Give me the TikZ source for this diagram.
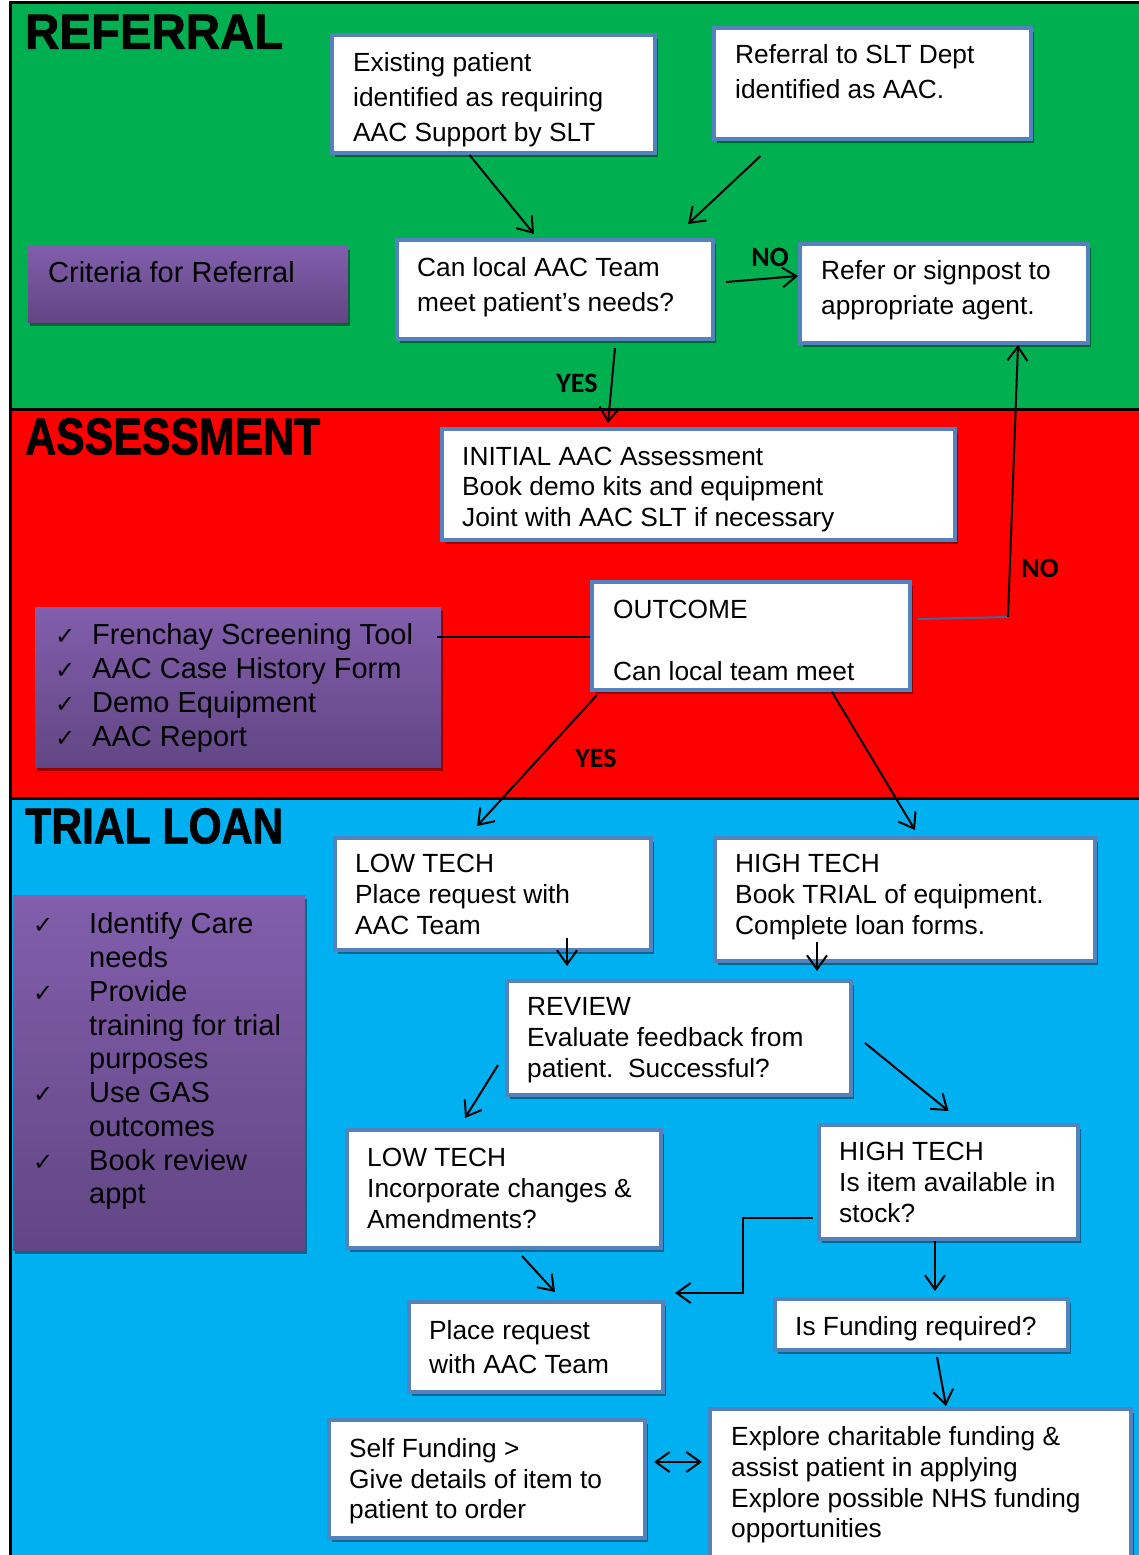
\documentclass[tikz,border=0pt]{standalone}
\usepackage{fontspec}
\usepackage{graphicx}
\setmainfont{Liberation Sans}
\newfontfamily\chkfont{DejaVu Sans}
\newfontfamily\lblfont{Carlito}
\newfontface\headfont[FakeBold=1.6]{Liberation Sans Bold}
\usetikzlibrary{arrows.meta,shadows}
\definecolor{grn}{RGB}{0,176,80}
\definecolor{rd}{RGB}{255,0,0}
\definecolor{sky}{RGB}{0,176,240}
\definecolor{bordc}{RGB}{84,130,190}
\definecolor{ptop}{RGB}{130,94,172}
\definecolor{pbot}{RGB}{98,70,132}
\newcommand\bx[6][box]{\node[#1, minimum width={#5-#3-4}, minimum height={#6-#4-4}] (#2) at ({(#3+#5)/2},{(#4+#6)/2}) {};}
\newcommand\chk{{\chkfont\fontsize{24}{24}\selectfont ✓}}
\tikzset{
  box/.style={rectangle, draw=bordc, line width=4pt, fill=white, inner sep=0pt,
    drop shadow={shadow xshift=3pt, shadow yshift=-4pt, opacity=0.4, fill=black}},
  pbox/.style={rectangle, draw=none, inner sep=0pt, top color=ptop, bottom color=pbot,
    drop shadow={shadow xshift=2pt, shadow yshift=-4pt, opacity=0.4, fill=black}},
  txt/.style={anchor=north west, inner sep=0pt, align=left, font=\fontsize{26.3}{#1}\selectfont},
  txt/.default=31,
  ptxt/.style={anchor=north west, inner sep=0pt, align=left, font=\fontsize{29}{#1}\selectfont},
  ptxt/.default=34,
  conn/.style={line width=2pt, -{Straight Barb[length=14pt,width=20pt]}},
  lbl/.style={inner sep=0pt, font=\lblfont\bfseries\fontsize{28}{28}\selectfont},
  head/.style={anchor=south west, inner sep=0pt}
}
\begin{document}
\begin{tikzpicture}[x=1pt,y=-1pt]
\clip (0,0) rectangle (1139,1555);
\fill[white] (0,0) rectangle (1139,1555);
\fill[grn] (10,3) rectangle (1139,409);
\fill[rd] (10,409) rectangle (1139,798);
\fill[sky] (10,798) rectangle (1139,1560);
\draw[line width=3pt] (10,1560) -- (10,3) -- (1139,3);
\draw[line width=3pt] (10,409) -- (1139,409);
\draw[line width=3pt] (10,798) -- (1139,798);

% headings
\node[head] (hRef) at (25,49) {\resizebox{258pt}{34pt}{\headfont REFERRAL}};
\node[head] (hAss) at (25,455) {\resizebox{295pt}{36pt}{\headfont ASSESSMENT}};
\node[head] (hTri) at (25,844) {\resizebox{258pt}{35pt}{\headfont TRIAL LOAN}};

% boxes
\bx{b1}{330}{33}{657}{155}
\bx{b2}{712}{26}{1033}{141}
\bx{b3}{395}{238}{715}{341}
\bx{b4}{798}{242}{1090}{345}
\bx[pbox]{p1}{26}{244}{350}{324}
\bx{b5}{440}{427}{957}{542}
\bx{b6}{590}{580}{912}{692}
\bx[pbox]{p2}{33}{605}{443}{769}
\bx{b7}{333}{836}{653}{952}
\bx{b8}{713}{836}{1097}{963}
\bx[pbox]{p3}{11}{893}{307}{1252}
\bx{b9}{505}{979}{853}{1097}
\bx{b10}{345}{1128}{663}{1250}
\bx{b11}{817}{1123}{1080}{1241}
\bx{b12}{407}{1300}{665}{1394}
\bx{b13}{773}{1297}{1070}{1352}
\bx{b14}{327}{1418}{647}{1540}
\bx{b15}{708}{1407}{1133}{1575}

% texts
\node[txt=35] (t1) at (353,52.6) {Existing patient\\identified as requiring\\AAC Support by SLT};
\node[txt=35] (t2) at (735,44.6) {Referral to SLT Dept\\identified as AAC.};
\node[txt=35] (t3) at (417,257.6) {Can local AAC Team\\meet patient’s needs?};
\node[txt=35] (t4) at (821,260.6) {Refer or signpost to\\appropriate agent.};
\node[ptxt] (p1t) at (48,261.6) {Criteria for Referral};
\node[txt=30.5] (t5) at (462,446.6) {INITIAL AAC Assessment\\Book demo kits and equipment\\Joint with AAC SLT if necessary};
\node[txt=31] (t6) at (613,599.6) {OUTCOME\\[31pt]Can local team meet};
\node[ptxt=34] (p2t) at (55,623.6) {\makebox[37pt][l]{\chk}Frenchay Screening Tool\\
\makebox[37pt][l]{\chk}AAC Case History Form\\
\makebox[37pt][l]{\chk}Demo Equipment\\
\makebox[37pt][l]{\chk}AAC Report};
\node[txt] (t7) at (355,853.6) {LOW TECH\\Place request with\\AAC Team};
\node[txt] (t8) at (735,853.6) {HIGH TECH\\Book TRIAL of equipment.\\Complete loan forms.};
\node[ptxt=33.75] (p3t) at (33,912.6) {\makebox[56pt][l]{\chk}Identify Care\\
\hspace*{56pt}needs\\
\makebox[56pt][l]{\chk}Provide\\
\hspace*{56pt}training for trial\\
\hspace*{56pt}purposes\\
\makebox[56pt][l]{\chk}Use GAS\\
\hspace*{56pt}outcomes\\
\makebox[56pt][l]{\chk}Book review\\
\hspace*{56pt}appt};
\node[txt] (t9) at (527,997.6) {REVIEW\\Evaluate feedback from\\patient.\ \ Successful?};
\node[txt] (t10) at (367,1147.6) {LOW TECH\\Incorporate changes \&\\Amendments?};
\node[txt] (t11) at (839,1141.6) {HIGH TECH\\Is item available in\\stock?};
\node[txt=34] (t12) at (429,1320.6) {Place request\\with AAC Team};
\node[txt] (t13) at (795,1316.6) {Is Funding required?};
\node[txt=30.5] (t14) at (349,1438.6) {Self Funding >\\Give details of item to\\patient to order};
\node[txt=30.7] (t15) at (731,1426.6) {Explore charitable funding \&\\assist patient in applying\\Explore possible NHS funding\\opportunities};

% labels
\node[lbl] (no1) at (770,257) {NO};
\node[lbl] (yes1) at (577,383) {YES};
\node[lbl] (no2) at (1040,568) {NO};
\node[lbl] (yes2) at (596,758) {YES};

% connectors
\draw[conn] ([xshift=-24pt]b1.south) -- ([xshift=-21pt,yshift=4pt]b3.north);
\draw[conn] ([xshift=-112pt,yshift=-15pt]b2.south) -- ([xshift=133pt,yshift=14pt]b3.north);
\draw[conn] ([xshift=11pt,yshift=7.5pt]b3.east) -- ([yshift=17.5pt]b4.west);
\draw[conn] ([xshift=60pt,yshift=-7pt]b3.south) -- ([xshift=-90.5pt,yshift=4pt]b5.north);
\coordinate (cn) at (1008,617);
\draw[line width=2pt, draw=bordc!80!black] ([xshift=6pt,yshift=17pt]b6.east) -- (cn);
\draw[conn] (cn) -- ([xshift=74pt]b4.south);
\draw[line width=2pt] ([xshift=-4pt,yshift=50pt]p2.east) -- ([yshift=-1pt]b6.west);
\draw[conn] ([xshift=7pt,yshift=-3pt]b6.south west) -- ([xshift=-16pt,yshift=10pt]b7.north);
\draw[conn] ([xshift=81pt]b6.south) -- ([xshift=10pt,yshift=6pt]b8.north);
\draw[conn] ([xshift=74pt,yshift=14pt]b7.south) -- ([xshift=-112pt,yshift=13pt]b9.north);
\draw[conn] ([xshift=-88pt,yshift=21pt]b8.south) -- ([xshift=138pt,yshift=8pt]b9.north);
\draw[conn] ([xshift=-7pt,yshift=-27pt]b9.west) -- ([xshift=-39pt,yshift=10pt]b10.north);
\draw[conn] ([xshift=12pt,yshift=-5pt]b9.east) -- ([yshift=12pt]b11.north);
\draw[conn] ([xshift=18pt,yshift=-6pt]b10.south) -- ([xshift=19pt,yshift=8pt]b12.north);
\draw[conn] ([xshift=-4pt,yshift=-36pt]b11.west) -- ++(-70,0) |- ([xshift=10pt,yshift=54pt]b12.east);
\draw[conn] ([xshift=-13.5pt]b11.south) -- ([xshift=13.5pt,yshift=6pt]b13.north);
\draw[conn] ([xshift=15.5pt,yshift=-5pt]b13.south) -- ([xshift=25.5pt,yshift=1pt]b15.north);
\draw[line width=2pt, {Straight Barb[length=14pt,width=20pt]}-{Straight Barb[length=14pt,width=20pt]}] ([xshift=7pt,yshift=17pt]b14.east) -- ([xshift=-6pt,yshift=29pt]b15.west);
\end{tikzpicture}
\end{document}
